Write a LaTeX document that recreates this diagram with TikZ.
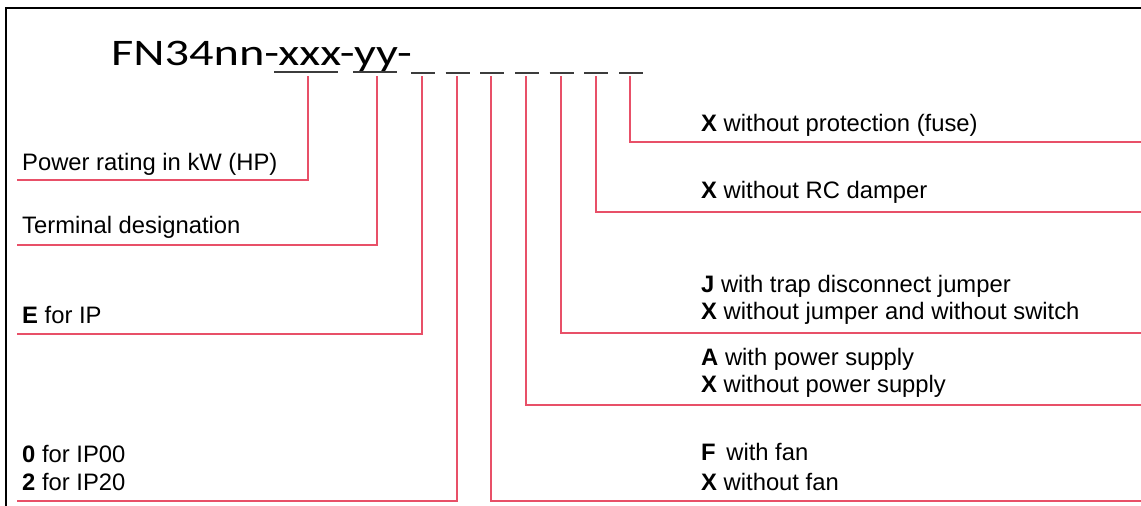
\documentclass[tikz,border=0pt]{standalone}
\usepackage{fontspec}
\setmainfont{Liberation Sans}
\newfontfamily\titlefont[FakeStretch=1.29]{Carlito}
\definecolor{legred}{RGB}{232,80,104}
\definecolor{ulgray}{RGB}{60,60,60}
\begin{document}
\begin{tikzpicture}[x=1pt,y=-1pt,
  leg/.style={draw=legred, line width=2pt},
  ul/.style={draw=ulgray, line width=2.2pt},
  lab/.style={anchor=base west, inner sep=0pt, text=black, font=\fontsize{23.8}{28}\selectfont}]
\clip (0,0) rectangle (1141,506);
\fill[white] (0,0) rectangle (1141,506);
\draw[black, line width=2.5pt] (6,8) rectangle (1200,560);
% title
\node[anchor=base west, inner sep=0pt, text=black, font=\titlefont\fontsize{37.5}{40}\selectfont] (title) at (111,65) {FN34nn-xxx-yy-};
\draw[ul] (274,72) -- (338,72);
\draw[ul] (353,72) -- (397,72);
\foreach \x in {411,445.7,480.3,515,549.7,584.3,619} {\draw[ul] (\x,73) -- ++(24,0);}
% top points
\coordinate (t1) at (308,76);
\coordinate (t2) at (377,76);
\coordinate (t3) at (422,76);
\coordinate (t4) at (457,76);
\coordinate (t5) at (491,76);
\coordinate (t6) at (526,76);
\coordinate (t7) at (561,76);
\coordinate (t8) at (596,76);
\coordinate (t9) at (630,76);
% ends
\coordinate (e1) at (17,180);
\coordinate (e2) at (17,245);
\coordinate (e3) at (17,334);
\coordinate (e4) at (17,501);
\coordinate (e5) at (1145,501);
\coordinate (e6) at (1145,405);
\coordinate (e7) at (1145,333);
\coordinate (e8) at (1145,212);
\coordinate (e9) at (1145,142);
\foreach \i in {1,...,9} {\draw[leg] (t\i) |- (e\i);}
% left labels
\node[lab] (l1) at (22,170) {Power rating in kW (HP)};
\node[lab] (l2) at (22,233) {Terminal designation};
\node[lab] (l3) at (22,323) {\textbf{E} for IP};
\node[lab] (l4a) at (22,462) {\textbf{0} for IP00};
\node[lab] (l4b) at (22,490) {\textbf{2} for IP20};
% right labels
\node[lab] (r9) at (701,131) {\textbf{X} without protection (fuse)};
\node[lab] (r8) at (701,198) {\textbf{X} without RC damper};
\node[lab] (r7a) at (701,292) {\textbf{J} with trap disconnect jumper};
\node[lab] (r7b) at (701,319) {\textbf{X} without jumper and without switch};
\node[lab] (r6a) at (701,365) {\textbf{A} with power supply};
\node[lab] (r6b) at (701,392) {\textbf{X} without power supply};
\node[lab] (r5a) at (701,460) {\textbf{F}\, with fan};
\node[lab] (r5b) at (701,490) {\textbf{X} without fan};
\end{tikzpicture}
\end{document}
